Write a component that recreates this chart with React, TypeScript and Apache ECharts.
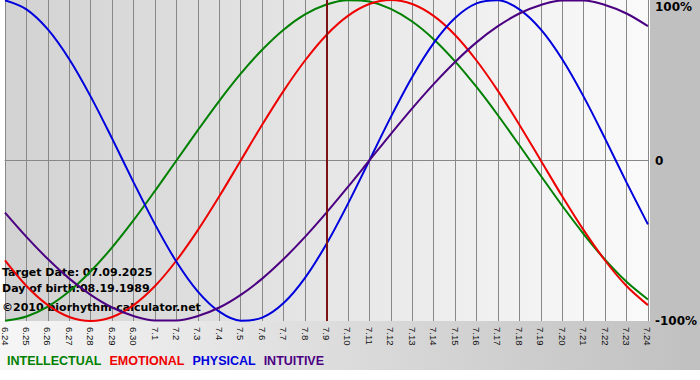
import React, { useEffect, useRef } from 'react';
import * as echarts from 'echarts';

const days = ['6.24', '6.25', '6.26', '6.27', '6.28', '6.29', '6.30', '7.1', '7.2', '7.3', '7.4', '7.5', '7.6', '7.7', '7.8', '7.9', '7.10', '7.11', '7.12', '7.13', '7.14', '7.15', '7.16', '7.17', '7.18', '7.19', '7.20', '7.21', '7.22', '7.23', '7.24'];
const intellectual = [-99.9, -97.2, -91.0, -81.5, -69.0, -54.1, -37.2, -18.9, 0, 18.9, 37.2, 54.1, 69.0, 81.5, 91.0, 97.2, 99.9, 99.0, 94.5, 86.6, 75.6, 61.8, 45.8, 28.2, 9.5, -9.5, -28.2, -45.8, -61.8, -75.6, -86.6];
const emotional = [-62.3, -78.2, -90.1, -97.5, -100, -97.5, -90.1, -78.2, -62.3, -43.4, -22.3, 0, 22.3, 43.4, 62.3, 78.2, 90.1, 97.5, 100, 97.5, 90.1, 78.2, 62.3, 43.4, 22.3, 0, -22.3, -43.4, -62.3, -78.2, -90.1];
const physical = [99.8, 94.2, 81.7, 63.1, 39.8, 13.6, -13.6, -39.8, -63.1, -81.7, -94.2, -99.8, -97.9, -88.8, -73.1, -52.0, -27.0, 0, 27.0, 52.0, 73.1, 88.8, 97.9, 99.8, 94.2, 81.7, 63.1, 39.8, 13.6, -13.6, -39.8];
const intuitive = [-32.5, -47.6, -61.4, -73.6, -83.7, -91.6, -96.9, -99.7, -99.7, -96.9, -91.6, -83.7, -73.6, -61.4, -47.6, -32.5, -16.5, 0, 16.5, 32.5, 47.6, 61.4, 73.6, 83.7, 91.6, 96.9, 99.7, 99.7, 96.9, 91.6, 83.7];
const targetDay = '7.9';
const yTicks = [-100, 0, 100];
const infoLines = ['Target Date: 07.09.2025', 'Day of birth:08.19.1989', '\u00A92010 biorhythm-calculator.net'];

const seriesDefs = [
  { name: 'INTELLECTUAL', color: '#008000', data: intellectual },
  { name: 'EMOTIONAL', color: '#ee0000', data: emotional },
  { name: 'PHYSICAL', color: '#0000dd', data: physical },
  { name: 'INTUITIVE', color: '#4b0082', data: intuitive },
];

const VERDANA = '"DejaVu Sans", Verdana, sans-serif';
const ARIAL = '"Liberation Sans", Arial, sans-serif';

export default function App() {
  const ref = useRef<HTMLDivElement>(null);
  useEffect(() => {
    if (!ref.current) return;
    const chart = echarts.init(ref.current, null, { renderer: 'svg' });
    const infoY = [272, 288, 307];
    chart.setOption({
      animation: false,
      backgroundColor: '#ffffff',
      grid: {
        left: 1,
        right: 50,
        top: 0,
        bottom: 59,
        show: true,
        borderWidth: 0,
        backgroundColor: {
          type: 'linear', x: 0, y: 0, x2: 1, y2: 0,
          colorStops: [{ offset: 0, color: '#d2d2d2' }, { offset: 1, color: '#fafafa' }],
        },
      },
      graphic: [
        {
          type: 'rect', z: -1, silent: true,
          shape: { x: 650, y: 0, width: 50, height: 322 },
          style: { fill: '#c0c0c0' },
        },
        {
          type: 'rect', z: -1, silent: true,
          shape: { x: 0, y: 321, width: 700, height: 49 },
          style: {
            fill: new echarts.graphic.LinearGradient(0, 0, 1, 0, [
              { offset: 0, color: '#f6f6f6' },
              { offset: 1, color: '#c0c0c0' },
            ]),
          },
        },
        ...infoLines.map((t, i) => ({
          type: 'text', z: 1, silent: true,
          x: 2, y: infoY[i],
          style: {
            text: t, fill: '#000', fontSize: 11, fontWeight: 'bold', fontFamily: VERDANA,
            verticalAlign: 'middle', align: 'left',
          },
        })),
      ],
      legend: {
        left: 2,
        top: 354,
        padding: 0,
        icon: 'none',
        itemWidth: 0,
        itemHeight: 14,
        itemGap: 3,
        selectedMode: false,
        textStyle: { fontSize: 12.5, fontWeight: 'bold', fontFamily: ARIAL },
        data: seriesDefs.map((s) => ({ name: s.name, textStyle: { color: s.color } })),
      },
      xAxis: {
        type: 'category',
        data: days,
        boundaryGap: false,
        axisLine: { show: true, lineStyle: { color: '#888888', width: 1 } },
        axisTick: { show: true, length: 5, interval: 0, lineStyle: { color: '#888888' } },
        splitLine: { show: true, interval: 0, lineStyle: { color: '#888888', width: 1 } },
        axisLabel: {
          interval: 0, rotate: -90, margin: 6, fontSize: 9.5, fontFamily: ARIAL, color: '#111',
        },
      },
      yAxis: {
        type: 'value',
        min: -100,
        max: 100,
        interval: 100,
        position: 'right',
        axisLine: { show: false },
        axisTick: { show: false },
        splitLine: {
          show: true,
          lineStyle: { color: ['rgba(0,0,0,0)', '#888888', 'rgba(0,0,0,0)'], width: 1 },
        },
        axisLabel: {
          margin: 7,
          fontSize: 12,
          fontWeight: 'bold',
          fontFamily: VERDANA,
          color: '#000',
          formatter: (v: number) => {
            if (v === yTicks[2]) return '{t|' + v + '%}';
            if (v === yTicks[1]) return '0';
            return v + '%';
          },
          rich: {
            t: { padding: [14, 0, 0, 0], fontSize: 12, fontWeight: 'bold', fontFamily: VERDANA, color: '#000' },
          },
        },
      },
      series: seriesDefs.map((s, i) => ({
        name: s.name,
        type: 'line',
        data: s.data,
        smooth: 0.33,
        showSymbol: false,
        symbol: 'none',
        silent: true,
        lineStyle: { color: s.color, width: 2 },
        itemStyle: { color: s.color },
        emphasis: { disabled: true },
        z: 3,
        markLine: i === 0 ? {
          silent: true,
          symbol: 'none',
          label: { show: false },
          lineStyle: { color: '#7a1414', width: 2, type: 'solid' },
          data: [{ xAxis: days.indexOf(targetDay) }],
        } : undefined,
      })),
    });
    return () => chart.dispose();
  }, []);
  return (
    <div
      ref={ref}
      style={{ position: 'fixed', left: 0, top: 0, width: 700, height: 380 }}
    />
  );
}
